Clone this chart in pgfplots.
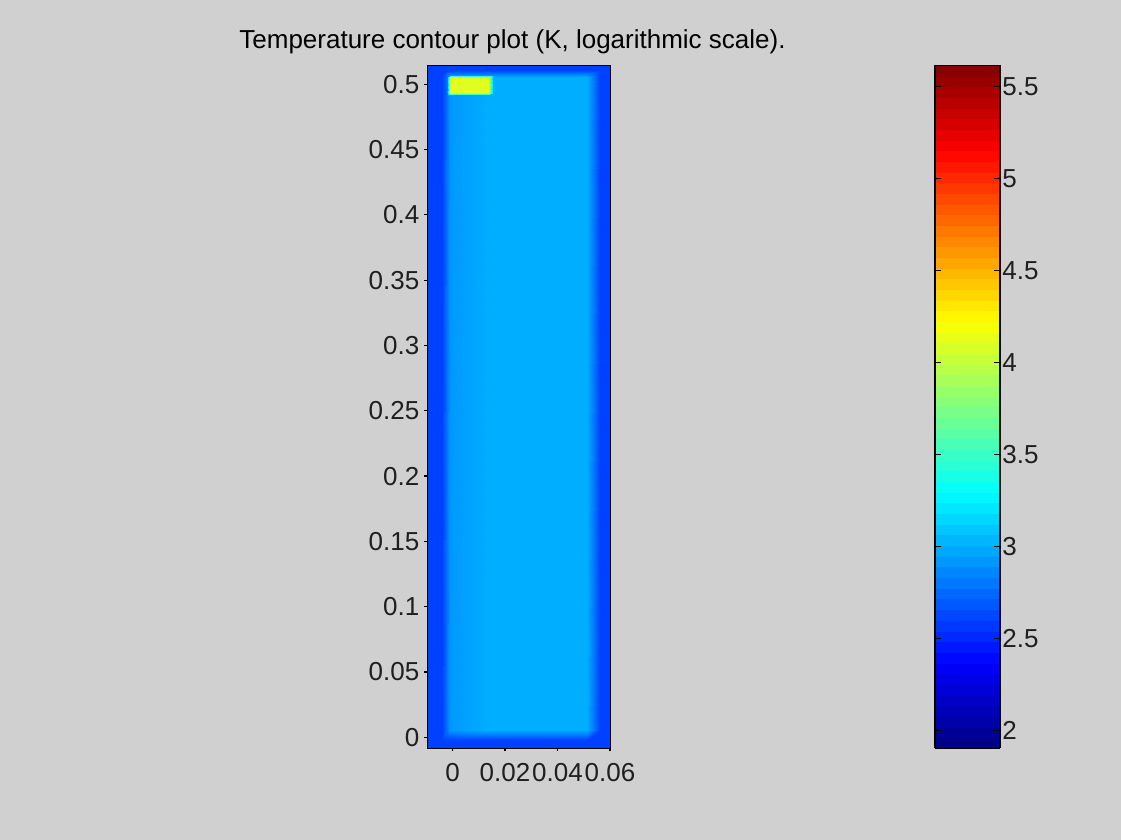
\documentclass[border=0pt]{standalone}
\usepackage{fontspec}
\setmainfont{Liberation Sans}
\usepackage{pgfplots}
\pgfplotsset{compat=1.18}
\definecolor{figbg}{RGB}{208,208,208}
\begin{document}
\fontsize{13}{15}\selectfont
\begin{tikzpicture}
\fill[figbg] (0pt,0pt) rectangle (560.5pt,420pt);
\node[anchor=base, inner sep=0pt] at (256.25pt,395.5pt) {Temperature contour plot (K, logarithmic scale).};
\begin{axis}[
  at={(213.65pt,45.85pt)}, anchor=south west,
  scale only axis, width=91.7pt, height=341.5pt,
  xmin=-0.0096, xmax=0.06027, ymin=-0.00842, ymax=0.51455,
  axis on top,
  scaled x ticks=false, scaled y ticks=false,
  axis line style={line width=0.6pt, black},
  every tick/.style={black, line width=0.6pt},
  tick align=outside, major tick length=1.5pt, tick pos=left,
  xtick={0,0.02,0.04,0.06}, xticklabels={0,0.02,0.04,0.06},
  ytick={0,0.05,0.1,0.15,0.2,0.25,0.3,0.35,0.4,0.45,0.5},
  yticklabels={0,0.05,0.1,0.15,0.2,0.25,0.3,0.35,0.4,0.45,0.5},
  tick label style={font=\fontsize{13}{15}\selectfont, text=black!88},
  xticklabel style={yshift=-1.5pt},
  yticklabel style={xshift=2pt},
  /pgf/number format/assume math mode=true,
  colormap/jet,
  point meta min=1.902, point meta max=5.614,
  colorbar sampled,
  colorbar style={
    at={(parent axis.north east)}, anchor=north west, xshift=153.65pt,
    scale only axis, width=32.5pt, height=341.5pt,
    axis line style={line width=0.6pt, black},
    scaled y ticks=false,
    ytick={2,2.5,3,3.5,4,4.5,5,5.5}, yticklabels={2,2.5,3,3.5,4,4.5,5,5.5},
    tick align=inside, ytick pos=both, yticklabel pos=right, major tick length=3pt,
    yticklabel style={inner sep=1pt, xshift=0pt, font=\fontsize{13}{15}\selectfont, text=black!88},
    samples=65,
  },
]
\addplot[surf, shader=interp, mesh/cols=9, point meta=explicit] table[x=x, y=y, meta=c] {
x y c
-0.00960 0.51455 2.6
-0.00400 0.51455 2.6
-0.00210 0.51455 2.6
-0.00095 0.51455 2.6
0.01352 0.51455 2.6
0.01543 0.51455 2.6
0.05124 0.51455 2.6
0.05619 0.51455 2.6
0.06027 0.51455 2.6
-0.00960 0.51072 2.6
-0.00400 0.51072 2.6
-0.00210 0.51072 2.6
-0.00095 0.51072 2.6
0.01352 0.51072 2.6
0.01543 0.51072 2.6
0.05124 0.51072 2.6
0.05619 0.51072 2.6
0.06027 0.51072 2.6
-0.00960 0.50689 2.6
-0.00400 0.50689 2.6
-0.00210 0.50689 2.8
-0.00095 0.50689 2.886
0.01352 0.50689 2.886
0.01543 0.50689 2.886
0.05124 0.50689 2.886
0.05619 0.50689 2.6
0.06027 0.50689 2.6
-0.00960 0.50536 2.6
-0.00400 0.50536 2.6
-0.00210 0.50536 2.8
-0.00095 0.50536 4.11
0.01352 0.50536 4.11
0.01543 0.50536 3.0
0.05124 0.50536 3.0
0.05619 0.50536 2.6
0.06027 0.50536 2.6
-0.00960 0.49311 2.6
-0.00400 0.49311 2.6
-0.00210 0.49311 2.8
-0.00095 0.49311 4.11
0.01352 0.49311 4.11
0.01543 0.49311 3.0
0.05124 0.49311 3.0
0.05619 0.49311 2.6
0.06027 0.49311 2.6
-0.00960 0.49158 2.6
-0.00400 0.49158 2.6
-0.00210 0.49158 2.8
-0.00095 0.49158 2.92
0.01352 0.49158 3.0
0.01543 0.49158 3.0
0.05124 0.49158 3.0
0.05619 0.49158 2.6
0.06027 0.49158 2.6
-0.00960 0.00536 2.6
-0.00400 0.00536 2.6
-0.00210 0.00536 2.8
-0.00095 0.00536 2.92
0.01352 0.00536 3.0
0.01543 0.00536 3.0
0.05124 0.00536 3.0
0.05619 0.00536 2.6
0.06027 0.00536 2.6
-0.00960 -0.00230 2.6
-0.00400 -0.00230 2.6
-0.00210 -0.00230 2.6
-0.00095 -0.00230 2.6
0.01352 -0.00230 2.6
0.01543 -0.00230 2.6
0.05124 -0.00230 2.6
0.05619 -0.00230 2.6
0.06027 -0.00230 2.6
-0.00960 -0.00842 2.6
-0.00400 -0.00842 2.6
-0.00210 -0.00842 2.6
-0.00095 -0.00842 2.6
0.01352 -0.00842 2.6
0.01543 -0.00842 2.6
0.05124 -0.00842 2.6
0.05619 -0.00842 2.6
0.06027 -0.00842 2.6
};
\end{axis}
\end{tikzpicture}
\end{document}
